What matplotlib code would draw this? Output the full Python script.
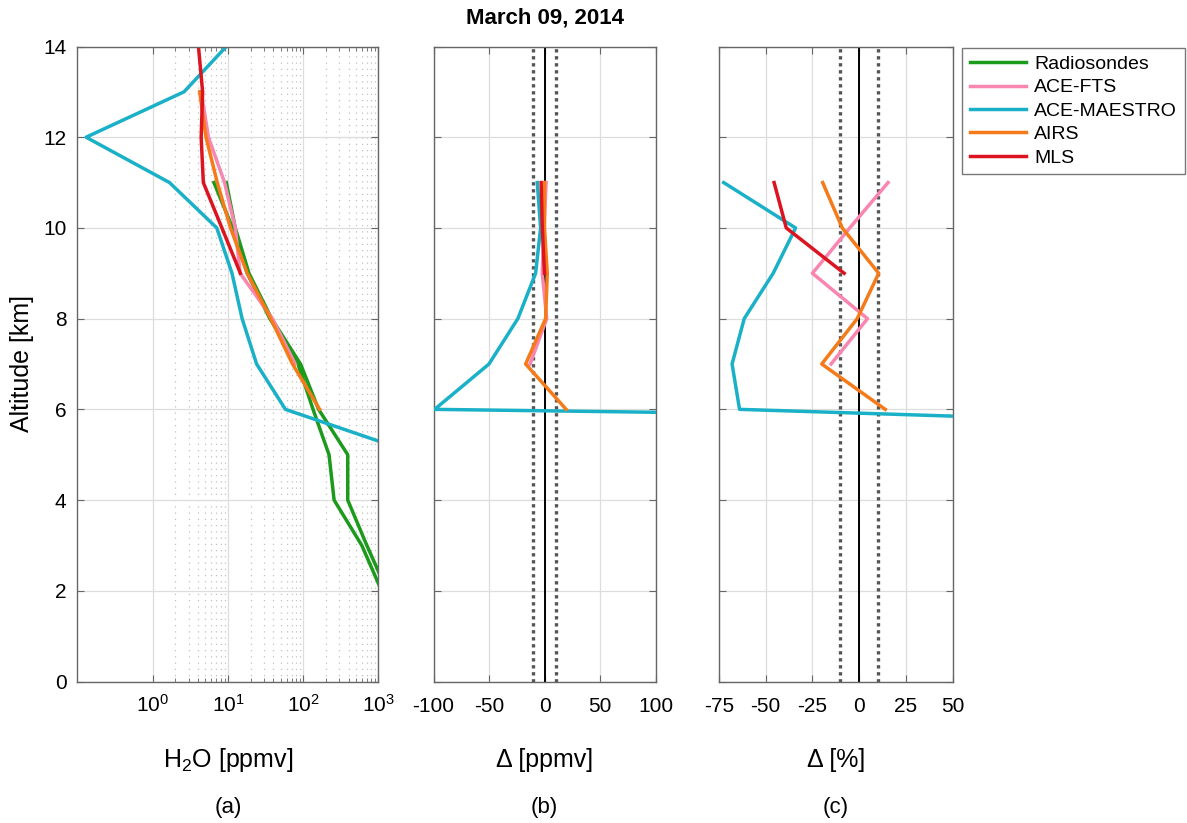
import matplotlib
matplotlib.use("Agg")
import matplotlib.pyplot as plt
import numpy as np

plt.rcParams["font.family"] = ["Liberation Sans", "DejaVu Sans"]
plt.rcParams["mathtext.fontset"] = "custom"
plt.rcParams["mathtext.rm"] = "Liberation Sans"
plt.rcParams["mathtext.it"] = "Liberation Sans:italic"

# ---- profiles, H2O [ppmv] vs altitude [km] ----
alt_sonde = [11, 10, 9, 8, 7, 6, 5, 4, 3, 2]
sonde_1 = [9.5, 12.5, 19, 38, 92, 160, 390, 390, 700, 1300]
sonde_2 = [6.5, 11.5, 18, 36, 85, 135, 220, 257, 600, 1100]

alt_fts = [13, 12, 11, 10, 9, 8, 7]
fts = [4.4, 5.5, 9.0, 12.5, 14.5, 39, 78]

alt_maestro = [14, 13, 12, 11, 10, 9, 8, 7, 6, 5]
maestro = [9.5, 2.6, 0.13, 1.67, 7.1, 11.3, 15.4, 24, 58, 3400]

alt_airs = [13, 12, 11, 10, 9, 8, 7, 6]
airs = [4.2, 5.1, 7.2, 10.8, 18, 37, 72, 165]

alt_mls = [14, 13, 12, 11, 10, 9]
mls = [4.05, 4.6, 4.4, 4.7, 8.3, 14.6]

# ---- absolute differences vs radiosondes [ppmv] ----
alt_d_fts = [11, 10, 9, 8, 7]
d_fts = [1.5, -0.5, -2, 2, -13]
alt_d_maestro = [11, 10, 9, 8, 7, 6, 5]
d_maestro = [-6.5, -3.5, -8, -24, -50, -99, 3000]
alt_d_airs = [11, 10, 9, 8, 7, 6]
d_airs = [0, 0, 2.5, 1, -17, 19.5]
alt_d_mls = [11, 10, 9]
d_mls = [-3, -2, 0]

# ---- relative differences vs radiosondes [%] ----
r_fts = [15.5, -5, -25, 4.5, -15]
r_maestro = [-72.5, -34, -46, -61.5, -68, -64, 700]
r_airs = [-19.5, -9, 10.5, -1, -20, 14]
r_mls = [-45.5, -39, -8]

names = ["Radiosondes", "ACE-FTS", "ACE-MAESTRO", "AIRS", "MLS"]
colors = ["#1c9a1c", "#f986b0", "#1ab1c8", "#f57a1a", "#dc1420"]
lw = 2.5

fig = plt.figure(figsize=(11.87, 8.23), dpi=100)
W, H = 1187.0, 823.0
top, bot = 46.5, 681.5


def make_ax(x0, x1):
    return fig.add_axes([x0 / W, 1 - bot / H, (x1 - x0) / W, (bot - top) / H])


ax_a = make_ax(77.5, 378.5)
ax_b = make_ax(433.5, 655.5)
ax_c = make_ax(719, 952.5)

# (a) profiles
ax_a.plot(sonde_1, alt_sonde, color=colors[0], lw=lw, label=names[0])
ax_a.plot(sonde_2, alt_sonde, color=colors[0], lw=lw)
ax_a.plot(fts, alt_fts, color=colors[1], lw=lw, label=names[1])
ax_a.plot(maestro, alt_maestro, color=colors[2], lw=lw, label=names[2])
ax_a.plot(airs, alt_airs, color=colors[3], lw=lw, label=names[3])
ax_a.plot(mls, alt_mls, color=colors[4], lw=lw, label=names[4])
ax_a.set_xscale("log")
ax_a.set_xlim(0.1, 1000)
ax_a.set_xticks([1, 10, 100, 1000])
ax_a.set_xticklabels(["10$^{0}$", "10$^{1}$", "10$^{2}$", "10$^{3}$"])
minor = [m * d for d in (1, 10, 100) for m in range(2, 10)]
ax_a.set_xticks(minor, minor=True)
ax_a.set_xticklabels([], minor=True)
ax_a.grid(True, which="major", color="#dddddd", lw=0.9)
ax_a.grid(True, which="minor", axis="x", color="#c0c0c0", lw=0.9, ls=(0, (1, 4)))

# (b) and (c) differences with +-10 reference lines
for ax, vals, lim, ticks in [
    (ax_b, (d_fts, d_maestro, d_airs, d_mls), (-100, 100), [-100, -50, 0, 50, 100]),
    (ax_c, (r_fts, r_maestro, r_airs, r_mls), (-75, 50), [-75, -50, -25, 0, 25, 50]),
]:
    ax.grid(True, color="#dddddd", lw=0.9)
    ax.axvline(0, color="black", lw=1.4, zorder=2)
    for xv in (-10, 10):
        ax.axvline(xv, color="#555555", lw=2.4, ls=(0, (1, 1.1)), zorder=2)
    ax.plot(vals[0], alt_d_fts, color=colors[1], lw=lw, zorder=3)
    ax.plot(vals[1], alt_d_maestro, color=colors[2], lw=lw, zorder=3)
    ax.plot(vals[2], alt_d_airs, color=colors[3], lw=lw, zorder=3)
    ax.plot(vals[3], alt_d_mls, color=colors[4], lw=lw, zorder=3)
    ax.set_xlim(*lim)
    ax.set_xticks(ticks)
    ax.set_xticklabels([str(t) for t in ticks])
    ax.tick_params(axis="y", labelleft=False)

for ax in (ax_a, ax_b, ax_c):
    ax.set_ylim(0, 14)
    ax.set_yticks(np.arange(0, 15, 2))
    ax.tick_params(which="both", direction="in", top=True, right=True,
                   labelsize=15, pad=11, color="#666666")
    ax.tick_params(which="major", length=5)
    ax.tick_params(which="minor", length=3)
    for s in ax.spines.values():
        s.set_color("#666666")
        s.set_linewidth(1.0)
    ax.set_axisbelow(True)

ax_a.tick_params(axis="x", pad=9)
ax_a.tick_params(axis="y", pad=8)
ax_a.set_ylabel("Altitude [km]", fontsize=18)
ax_a.yaxis.set_label_coords(-0.184, 0.5)
ax_a.yaxis.label.set_va("center")

for ax, xl, tag in [(ax_a, "H$_2$O [ppmv]", "(a)"),
                    (ax_b, "\u0394 [ppmv]", "(b)"),
                    (ax_c, "\u0394 [%]", "(c)")]:
    ax.set_xlabel(xl, fontsize=18)
    ax.xaxis.set_label_coords(0.5, -0.1236)
    ax.xaxis.label.set_va("center")
    ax.text(0.5, -0.199, tag, transform=ax.transAxes, ha="center",
            va="center", fontsize=16)

fig.text(545 / W, 1 - 18 / H, "March 09, 2014", ha="center", va="center",
         fontsize=16, fontweight="bold")

fig.legend(loc="upper left", bbox_to_anchor=(962 / W, 1 - 47.5 / H),
           fontsize=14, frameon=True, fancybox=False, framealpha=1,
           edgecolor="#777777", borderaxespad=0, borderpad=0.4,
           labelspacing=0.3, handlelength=2.9, handletextpad=0.4)

fig.savefig("out.png", dpi=100)
